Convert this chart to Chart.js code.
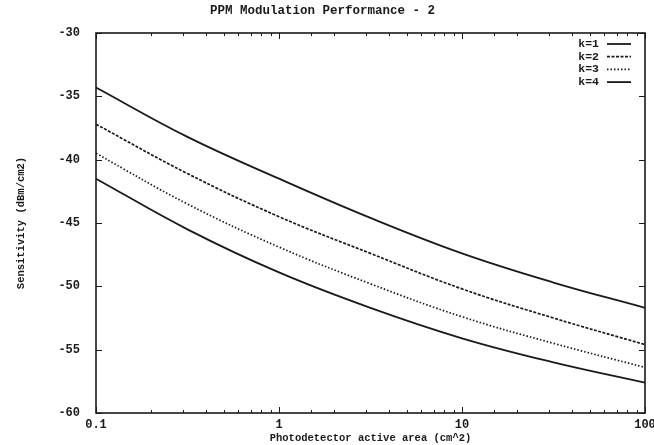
<!DOCTYPE html>
<html lang="en">
<head>
    <meta charset="UTF-8">
    <title>PPM Modulation Performance - 2</title>
    <script src="https://cdn.jsdelivr.net/npm/chart.js"></script>
    <style>
        html, body { margin: 0; padding: 0; background: #fff; }
        #wrap { width: 654px; height: 445px; position: relative; }
    </style>
</head>
<body>
    <div id="wrap"><canvas id="ppmChart"></canvas></div>

    <script>
        // Data
        const areas = [0.1, 0.316, 1, 3.16, 10, 31.6, 100];
        const seriesNames = ['k=1', 'k=2', 'k=3', 'k=4'];
        const k1 = [-34.3, -38.2, -41.5, -44.6, -47.4, -49.7, -51.7];
        const k2 = [-37.2, -41.1, -44.5, -47.4, -50.2, -52.5, -54.6];
        const k3 = [-39.5, -43.5, -46.9, -49.8, -52.4, -54.5, -56.4];
        const k4 = [-41.5, -45.5, -48.9, -51.7, -54.1, -56.0, -57.6];
        const xTickLabels = [0.1, 1, 10, 100];
        const yTicks = [-60, -55, -50, -45, -40, -35, -30];

        const ink = '#1a1a1a';
        const monoBold = (size) => ({ family: '"Liberation Mono", "DejaVu Sans Mono", monospace', size: size, weight: 'bold' });

        const styles = [
            { dash: [], width: 1.8 },
            { dash: [3, 1.5], width: 1.7 },
            { dash: [1.5, 2], width: 1.7 },
            { dash: [], width: 1.8 }
        ];

        function makeSet(name, values, i) {
            return {
                label: name,
                data: areas.map((a, j) => ({ x: a, y: values[j] })),
                borderColor: ink,
                borderWidth: styles[i].width,
                borderDash: styles[i].dash,
                pointRadius: 0,
                fill: false,
                tension: 0.4
            };
        }

        // box frame + inward ticks on all four sides, gnuplot style
        const framePlugin = {
            id: 'frame',
            afterDatasetsDraw(chart) {
                const { ctx, chartArea: a } = chart;
                const xs = chart.scales.x, ys = chart.scales.y;
                ctx.save();
                ctx.strokeStyle = ink;
                ctx.lineWidth = 1.6;
                ctx.strokeRect(a.left, a.top, a.right - a.left, a.bottom - a.top);
                ctx.lineWidth = 1;
                ctx.beginPath();
                yTicks.forEach(v => {
                    const py = Math.round(ys.getPixelForValue(v)) + 0.5;
                    ctx.moveTo(a.left, py); ctx.lineTo(a.left + 6, py);
                    ctx.moveTo(a.right, py); ctx.lineTo(a.right - 6, py);
                });
                xs.ticks.forEach(t => {
                    const lg = Math.log10(t.value);
                    const major = Math.abs(lg - Math.round(lg)) < 1e-6;
                    const len = major ? 6 : 3;
                    const px = Math.round(xs.getPixelForValue(t.value)) + 0.5;
                    ctx.moveTo(px, a.bottom); ctx.lineTo(px, a.bottom - len);
                    ctx.moveTo(px, a.top); ctx.lineTo(px, a.top + len);
                });
                ctx.stroke();

                // key in the top right corner
                ctx.font = 'bold 11.5px "Liberation Mono", monospace';
                ctx.fillStyle = ink;
                ctx.textAlign = 'right';
                ctx.textBaseline = 'middle';
                chart.data.datasets.forEach((ds, i) => {
                    const y = a.top + 11 + i * 12.7;
                    ctx.fillText(ds.label, a.right - 46, y);
                    ctx.beginPath();
                    ctx.setLineDash(ds.borderDash);
                    ctx.lineWidth = ds.borderWidth;
                    ctx.moveTo(a.right - 38, y);
                    ctx.lineTo(a.right - 14, y);
                    ctx.stroke();
                });
                ctx.restore();
            }
        };

        new Chart(document.getElementById('ppmChart'), {
            type: 'line',
            data: {
                datasets: [
                    makeSet(seriesNames[0], k1, 0),
                    makeSet(seriesNames[1], k2, 1),
                    makeSet(seriesNames[2], k3, 2),
                    makeSet(seriesNames[3], k4, 3)
                ]
            },
            options: {
                responsive: true,
                maintainAspectRatio: false,
                animation: false,
                layout: { padding: { left: 0, right: 9, top: 0, bottom: 0 } },
                plugins: {
                    legend: { display: false },
                    tooltip: { enabled: false },
                    title: {
                        display: true,
                        text: 'PPM Modulation Performance - 2',
                        color: ink,
                        font: monoBold(12.5),
                        padding: { top: 3, bottom: 15 }
                    }
                },
                scales: {
                    x: {
                        type: 'logarithmic',
                        min: 0.1,
                        max: 100,
                        grid: { display: false },
                        border: { display: false },
                        afterFit: (s) => { s.height = 32; s.paddingRight = 0; s.paddingLeft = 0; },
                        ticks: {
                            color: ink,
                            font: monoBold(12),
                            padding: -3,
                            maxRotation: 0,
                            autoSkip: false,
                            callback: (v) => xTickLabels.includes(Number(v)) ? String(v) : ''
                        },
                        title: {
                            display: true,
                            text: 'Photodetector active area (cm^2)',
                            color: ink,
                            font: monoBold(10.5),
                            padding: { top: -3, bottom: 0 }
                        }
                    },
                    y: {
                        min: -60,
                        max: -30,
                        grid: { display: false },
                        border: { display: false },
                        afterFit: (s) => { s.width = 96; },
                        ticks: {
                            stepSize: 5,
                            color: ink,
                            font: monoBold(12),
                            padding: 8
                        },
                        title: {
                            display: true,
                            text: 'Sensitivity (dBm/cm2)',
                            color: ink,
                            font: monoBold(10.5),
                            padding: { top: 15, bottom: 0 }
                        }
                    }
                }
            },
            plugins: [framePlugin]
        });
    </script>
</body>
</html>
